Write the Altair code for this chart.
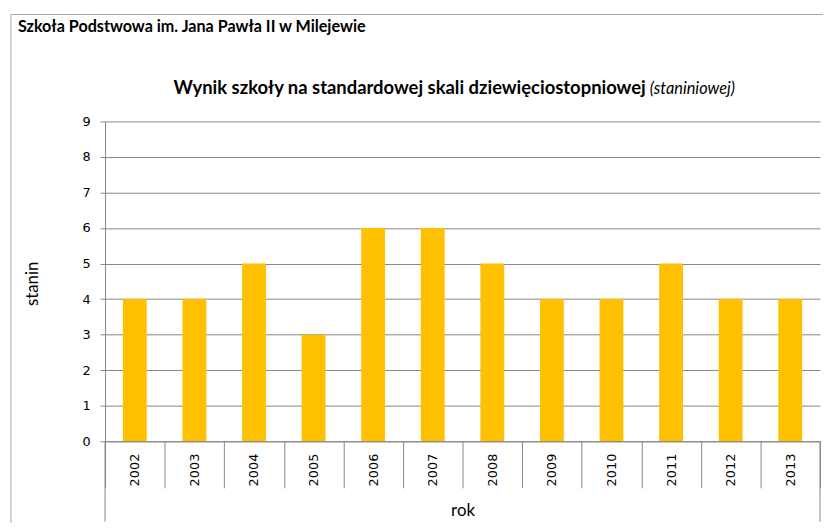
import altair as alt
import pandas as pd

# ---- data ----
years = ["2002", "2003", "2004", "2005", "2006", "2007",
         "2008", "2009", "2010", "2011", "2012", "2013"]
stanin = [4, 4, 5, 3, 6, 6, 5, 4, 4, 5, 4, 4]
y_ticks = [0, 1, 2, 3, 4, 5, 6, 7, 8, 9]

school_title = "Szkoła Podstwowa im. Jana Pawła II w Milejewie"
title_bold = "Wynik szkoły na standardowej skali dziewięciostopniowej"
title_italic = "(staniniowej)"
x_title = "rok"
y_title = "stanin"

W, H = 722, 323
GRAY = "#868686"
df = pd.DataFrame({"rok": years, "stanin": stanin})

border = alt.Chart(pd.DataFrame({"a": [0]})).mark_rect(
    fillOpacity=0, stroke="#A6A6A6", strokeWidth=1
).encode(
    x=alt.value(-95), x2=alt.value(W + 60),
    y=alt.value(-108), y2=alt.value(H + 150),
)

bars = alt.Chart(df).mark_bar(color="#FFC000", width=alt.RelativeBandSize(0.4)).encode(
    x=alt.X("rok:N", sort=years,
            scale=alt.Scale(paddingInner=0, paddingOuter=0),
            axis=alt.Axis(title=x_title, labelAngle=270, labelFont="DejaVu Sans",
                          labelFontSize=13, labelColor="black", labelPadding=-35,
                          tickSize=47, tickBand="extent", tickColor=GRAY,
                          domainColor=GRAY, zindex=1,
                          titleFont="Lato", titleFontSize=17, titleFontWeight="normal",
                          titleColor="black", titleY=75, titleBaseline="alphabetic")),
    y=alt.Y("stanin:Q", scale=alt.Scale(domain=[0, 9], nice=False),
            axis=alt.Axis(title=y_title, values=y_ticks, labelFont="DejaVu Sans",
                          labelFontSize=13, labelColor="black", labelPadding=10,
                          tickSize=5, tickColor=GRAY, domainColor=GRAY,
                          gridColor=GRAY, gridOpacity=1,
                          titleFont="Lato", titleFontSize=17, titleFontWeight="normal",
                          titleColor="black", titleX=-68, titleY=H / 2 + 2,
                          titleBaseline="alphabetic", titleAngle=270)),
)

one = pd.DataFrame({"a": [0]})
left_line = alt.Chart(one).mark_rule(color=GRAY).encode(
    x=alt.value(0), y=alt.value(H), y2=alt.value(H + 81))
right_line = alt.Chart(one).mark_rule(color=GRAY).encode(
    x=alt.value(W), y=alt.value(H), y2=alt.value(H + 81))

t_school = alt.Chart(pd.DataFrame({"t": [school_title]})).mark_text(
    font="Lato", fontSize=16.3, fontWeight="bold", align="left", baseline="alphabetic",
    color="black"
).encode(text="t:N", x=alt.value(-88), y=alt.value(-90))

t_bold = alt.Chart(pd.DataFrame({"t": [title_bold]})).mark_text(
    font="Lato", fontSize=18.6, fontWeight="bold", align="right", baseline="alphabetic",
    color="black"
).encode(text="t:N", x=alt.value(546), y=alt.value(-28))

t_ital = alt.Chart(pd.DataFrame({"t": [title_italic]})).mark_text(
    font="Lato", fontSize=16.5, fontStyle="italic", align="left", baseline="alphabetic",
    color="black"
).encode(text="t:N", x=alt.value(550), y=alt.value(-28))

chart = alt.layer(border, bars, left_line, right_line, t_school, t_bold, t_ital).properties(
    width=W, height=H,
    autosize=alt.AutoSizeParams(type="none"),
    padding={"left": 98, "top": 112, "right": 3, "bottom": 80},
    background="white",
).configure_view(stroke=None)

chart.save("out.html", embed_options={"renderer": "svg", "actions": False})
